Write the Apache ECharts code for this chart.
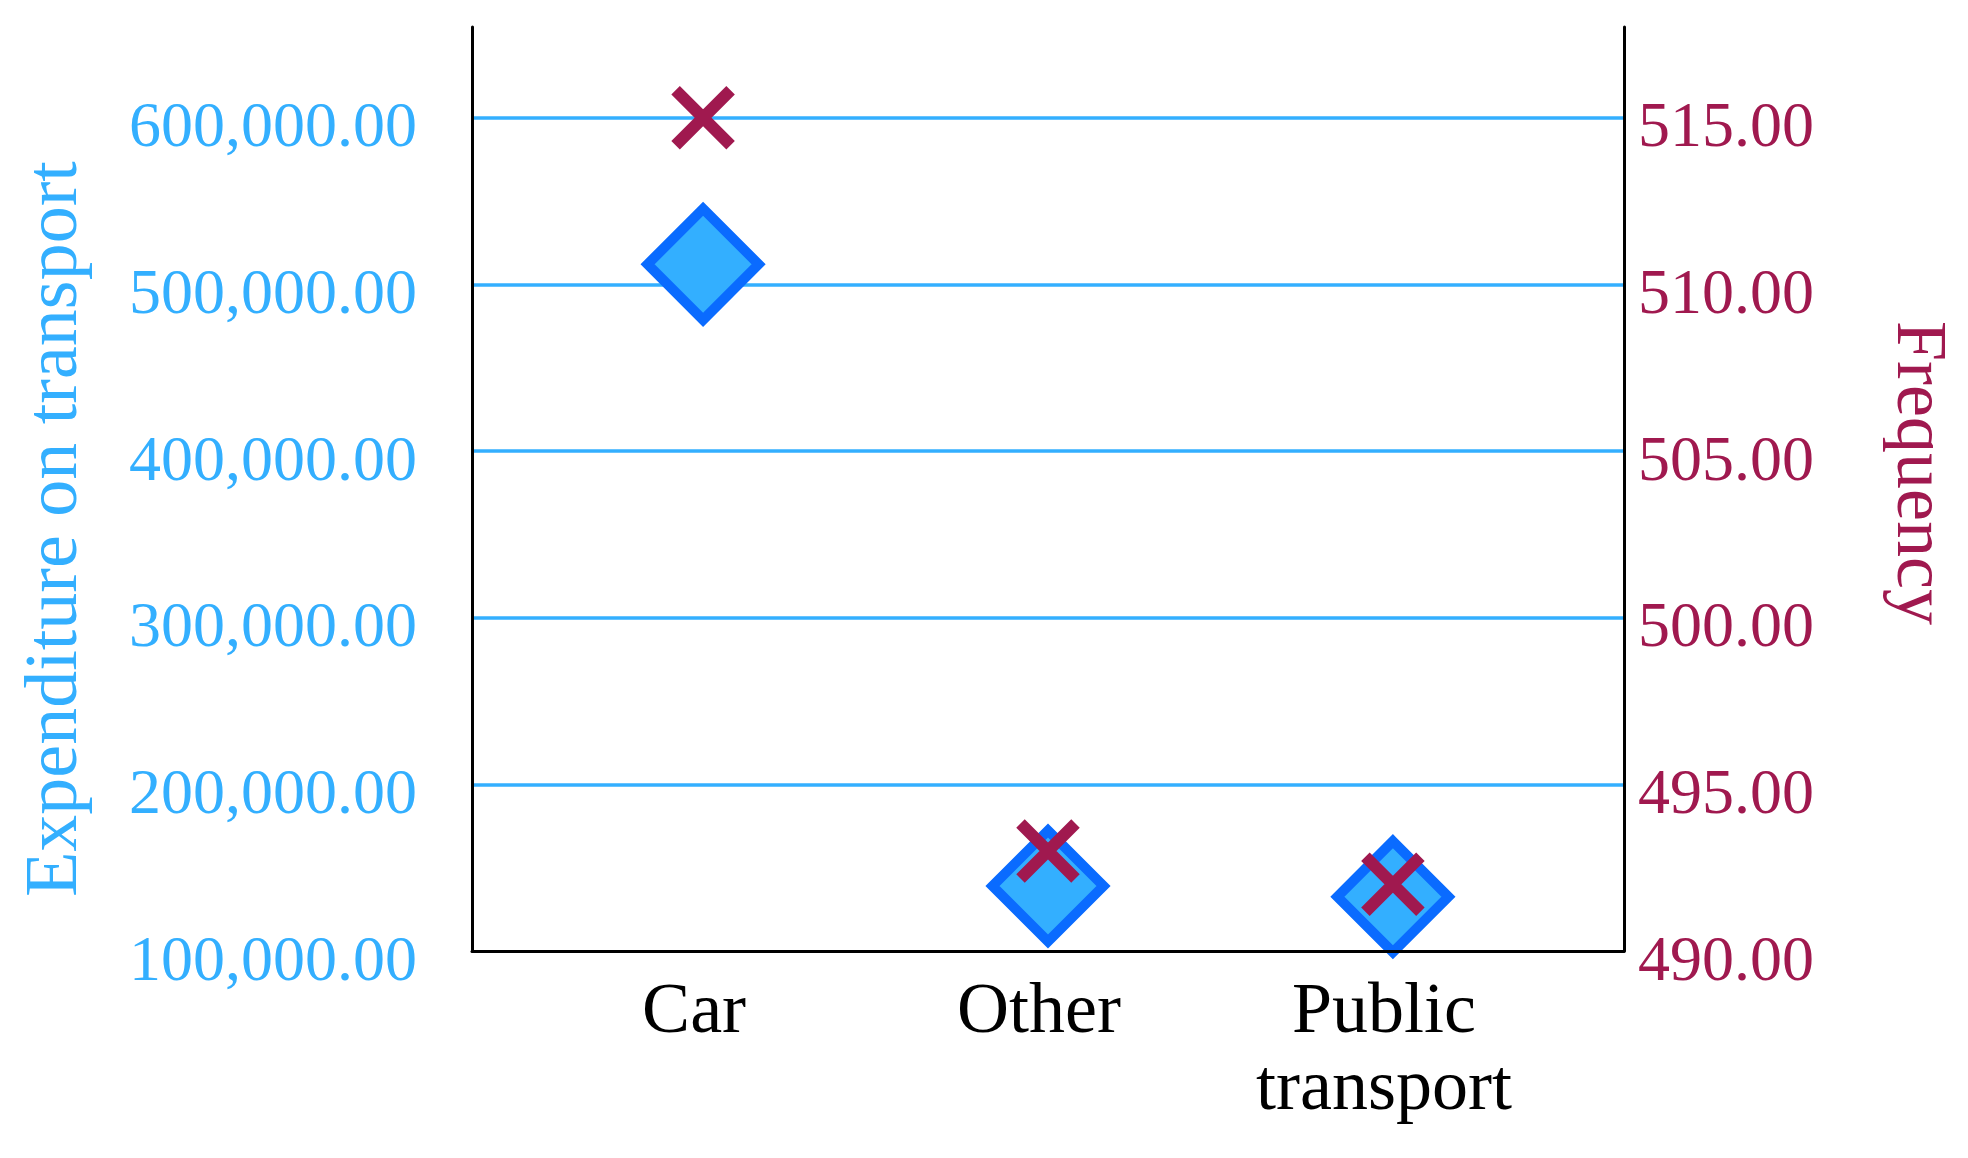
<!DOCTYPE html>
<html><head><meta charset="utf-8">
<script src="https://cdn.jsdelivr.net/npm/echarts@6/dist/echarts.min.js"></script>
<style>html,body{margin:0;padding:0;background:#fff}#c{width:1968px;height:1158px}</style>
</head><body><div id="c"></div>
<script>
const categories = ['Car', 'Other', 'Public transport'];
const expenditure = [512000, 139000, 132600];
const frequency = [515.0, 493.0, 492.0];
const leftTicks = [100000, 200000, 300000, 400000, 500000, 600000];
const rightTicks = [490, 495, 500, 505, 510, 515];
const leftRange = [100000, 654400];
const rightRange = [490, 517.72];
const xRange = [-0.67, 2.67];

const FONT = 'Liberation Serif';
const BLUE = '#33AFFF';
const DEEP = '#0A6BFF';
const CRIMSON = '#A0194F';

function fmt(v) {
  return v.toLocaleString('en-US', {minimumFractionDigits: 2, maximumFractionDigits: 2});
}

const chart = echarts.init(document.getElementById('c'), null, {renderer: 'canvas'});
chart.setOption({
  animation: false,
  backgroundColor: '#ffffff',
  grid: {left: 472, right: 344, top: 27, bottom: 207, containLabel: false},
  xAxis: {
    type: 'value', min: xRange[0], max: xRange[1], z: 5,
    axisLine: {show: true, onZero: false, lineStyle: {color: '#000', width: 3}},
    axisTick: {show: false}, splitLine: {show: false},
    axisLabel: {
      color: '#000', fontFamily: FONT, fontSize: 72, lineHeight: 77, margin: 24,
      padding: [0, 18, 0, 0],
      showMinLabel: false, showMaxLabel: false,
      formatter: v => Number.isInteger(v) && categories[v] ? categories[v].replace(' ', '\n') : ''
    }
  },
  yAxis: [{
    type: 'value', position: 'left', min: leftRange[0], max: leftRange[1], interval: 100000,
    name: 'Expenditure on transport', nameLocation: 'middle', nameGap: 378,
    nameTextStyle: {color: BLUE, fontFamily: FONT, fontSize: 74, padding: [0, 80, 0, 0]},
    axisLine: {show: true, onZero: false, lineStyle: {color: '#000', width: 3}},
    axisTick: {show: false},
    splitLine: {show: true, showMinLine: false, showMaxLine: false, lineStyle: {color: BLUE, width: 3.5}},
    axisLabel: {
      color: BLUE, fontFamily: FONT, fontSize: 64, margin: 55,
      formatter: v => leftTicks.includes(v) ? '{a|' + fmt(v) + '}' : '',
      rich: {a: {color: BLUE, fontFamily: FONT, fontSize: 64, padding: [24, 0, 0, 0]}}
    }
  }, {
    type: 'value', position: 'right', min: rightRange[0], max: rightRange[1], interval: 5,
    name: 'Frequency', nameLocation: 'middle', nameGap: 257, nameRotate: -90,
    nameTextStyle: {color: CRIMSON, fontFamily: FONT, fontSize: 72, padding: [0, 32, 0, 0]},
    axisLine: {show: true, onZero: false, lineStyle: {color: '#000', width: 3}},
    axisTick: {show: false},
    splitLine: {show: false},
    axisLabel: {
      color: CRIMSON, fontFamily: FONT, fontSize: 64, margin: 14,
      formatter: v => rightTicks.includes(v) ? '{a|' + fmt(v) + '}' : '',
      rich: {a: {color: CRIMSON, fontFamily: FONT, fontSize: 64, padding: [24, 0, 0, 0]}}
    }
  }],
  series: [{
    type: 'scatter', yAxisIndex: 0, clip: false, z: 2,
    symbol: 'diamond', symbolSize: 111,
    itemStyle: {color: BLUE, borderColor: DEEP, borderWidth: 10, borderJoin: 'miter', opacity: 1},
    data: categories.map((c, i) => [i, expenditure[i]])
  }, {
    type: 'scatter', yAxisIndex: 1, clip: false, z: 3,
    symbol: 'path://M0,0L10,10M10,0L0,10', symbolSize: 55,
    itemStyle: {color: 'rgba(0,0,0,0)', borderColor: CRIMSON, borderWidth: 12, borderCap: 'butt', opacity: 1},
    data: categories.map((c, i) => [i, frequency[i]])
  }]
});
</script>
</body></html>
